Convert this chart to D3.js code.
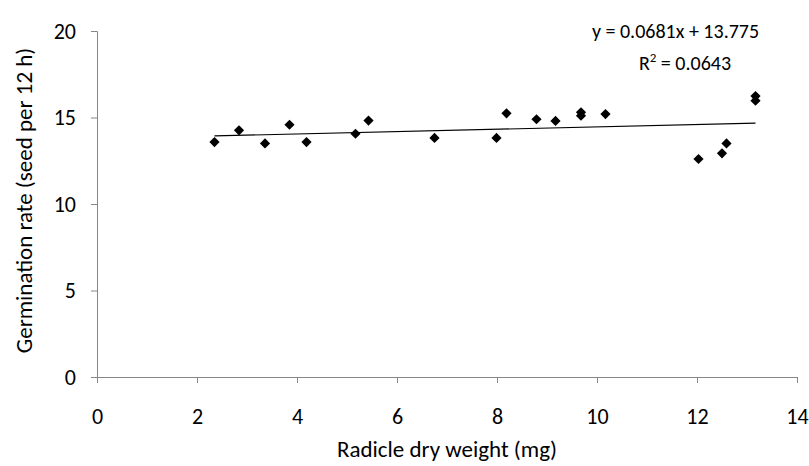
<!DOCTYPE html>
<html><head><meta charset="utf-8">
<script src="https://cdn.jsdelivr.net/npm/d3@7"></script>
<style>body{margin:0;background:#fff;} text{font-family:Carlito, Lato, "Open Sans", sans-serif;fill:#000;}</style>
</head><body>
<svg id="c" width="809" height="466"></svg>
<script>
const xVals = [2.35, 2.84, 3.36, 3.85, 4.19, 5.17, 5.43, 6.75, 7.99, 8.19, 8.79, 9.17, 9.68, 9.68, 10.17, 12.03, 12.5, 12.59, 13.17, 13.17];
const yVals = [13.58, 14.26, 13.5, 14.58, 13.58, 14.06, 14.82, 13.82, 13.82, 15.24, 14.9, 14.8, 15.3, 15.1, 15.2, 12.6, 12.93, 13.5, 16.24, 15.97];
const xTicks = [0, 2, 4, 6, 8, 10, 12, 14];
const yTicks = [0, 5, 10, 15, 20];
const slope = 0.0681, intercept = 13.775;
const eqText = "y = 0.0681x + 13.775";
const r2Value = "0.0643";
const xTitle = "Radicle dry weight (mg)";
const yTitle = "Germination rate (seed per 12 h)";

const FONT = "Carlito, Lato, 'Open Sans', sans-serif";
const svg = d3.select("#c");
const x = d3.scaleLinear().domain([0, 14]).range([97, 797]);
const y = d3.scaleLinear().domain([0, 20]).range([377, 31]);
const axisColor = "#868686";

const gx = svg.append("g").attr("transform", `translate(0,${y(0)})`)
  .call(d3.axisBottom(x).tickValues(xTicks).tickSize(6).tickPadding(25).tickFormat(d3.format("d")));
const gy = svg.append("g").attr("transform", `translate(${x(0)},0)`)
  .call(d3.axisLeft(y).tickValues(yTicks).tickSize(6).tickPadding(15).tickFormat(d3.format("d")));
[gx, gy].forEach(g => {
  g.select(".domain").attr("stroke", axisColor).attr("stroke-width", 1);
  g.selectAll(".tick line").attr("stroke", axisColor);
  g.selectAll(".tick text").attr("font-size", 22).attr("fill", "#000").style("font-family", FONT);
});

// trendline
const xmin = d3.min(xVals), xmax = d3.max(xVals);
svg.append("line")
  .attr("x1", x(xmin)).attr("y1", y(intercept + slope * xmin))
  .attr("x2", x(xmax)).attr("y2", y(intercept + slope * xmax))
  .attr("stroke", "#000").attr("stroke-width", 1.2);

// points
const sym = d3.symbol().type(d3.symbolSquare).size(52);
svg.append("g").selectAll("path").data(xVals.map((d, i) => [d, yVals[i]])).join("path")
  .attr("d", sym)
  .attr("transform", d => `translate(${x(d[0])},${y(d[1])}) rotate(45)`)
  .attr("fill", "#000");

// titles
svg.append("text").attr("x", (x(0) + x(14)) / 2).attr("y", 457)
  .attr("text-anchor", "middle").attr("font-size", 23).text(xTitle);
svg.append("text").attr("transform", `translate(32,200.5) rotate(-90)`)
  .attr("text-anchor", "middle").attr("font-size", 23).text(yTitle);

// equation
svg.append("text").attr("x", 675.5).attr("y", 37.5).attr("text-anchor", "middle")
  .attr("font-size", 20).text(eqText);
const r2 = svg.append("text").attr("x", 685).attr("y", 69.5).attr("text-anchor", "middle").attr("font-size", 20);
r2.append("tspan").text("R");
r2.append("tspan").attr("dy", -8).attr("font-size", 13).text("2");
r2.append("tspan").attr("dy", 8).text(" = " + r2Value);
</script>
</body></html>
